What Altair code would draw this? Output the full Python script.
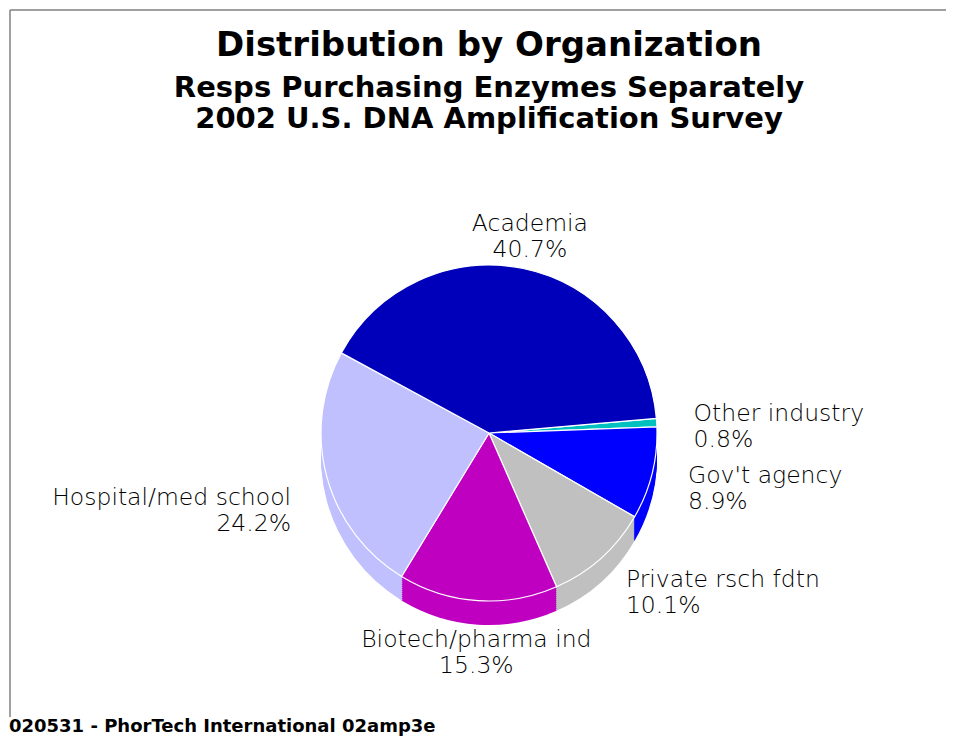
import math
import altair as alt
import pandas as pd

# ---- data ----
categories = ["Other industry", "Gov't agency", "Private rsch fdtn",
              "Biotech/pharma ind", "Hospital/med school", "Academia"]
shares = [0.8, 8.9, 10.1, 15.3, 24.2, 40.7]
colors = ["#00C0C0", "#0000FF", "#C0C0C0", "#C000C0", "#C0C0FF", "#0000BB"]

title_lines = ["Distribution by Organization",
               "Resps Purchasing Enzymes Separately",
               "2002 U.S. DNA Amplification Survey"]
footnote = "020531 - PhorTech International 02amp3e"

# ---- layout / style ----
W, H = 938, 730
CX, CY = 481, 425
R = 168
DEPTH = 24
START_DEG = 85
theta_scale = alt.Scale(domain=[0, 100],
                        range=[math.radians(START_DEG), math.radians(START_DEG) + 2 * math.pi],
                        nice=False)
color_enc = alt.Color("category:N", scale=alt.Scale(domain=categories, range=colors), legend=None)

df = pd.DataFrame({"category": categories, "share": shares, "order": list(range(len(categories)))})

base = (
    alt.Chart(df)
    .transform_window(cum="sum(share)", sort=[alt.SortField("order")], frame=[None, 0])
    .transform_calculate(
        start="datum.cum - datum.share",
        mid="datum.cum - datum.share / 2",
        deg=f"({START_DEG} + (datum.cum - datum.share / 2) * 3.6) % 360",
        label="datum.category + '\\n' + format(datum.share, '.1f') + '%'",
    )
    .transform_calculate(
        side="datum.deg > 30 && datum.deg < 150 ? 'right' : "
             "(datum.deg > 210 && datum.deg < 330 ? 'left' : "
             "(datum.deg >= 150 && datum.deg <= 210 ? 'bottom' : 'top'))"
    )
)


def pie(offset, top):
    kw = dict(radius=R)
    if top:
        kw.update(stroke="white", strokeWidth=1.2)
    return base.mark_arc(**kw).encode(
        theta=alt.Theta("start:Q", scale=theta_scale, stack=False),
        theta2="cum:Q",
        color=color_enc,
        x=alt.value(CX),
        y=alt.value(CY + offset),
    )


layers = []
# frame lines
one = pd.DataFrame({"k": [0]})
layers.append(alt.Chart(one).mark_rule(color="#808080", strokeWidth=1.5).encode(
    x=alt.value(2), x2=alt.value(W), y=alt.value(2)))
layers.append(alt.Chart(one).mark_rule(color="#808080", strokeWidth=1.5).encode(
    x=alt.value(2), y=alt.value(2), y2=alt.value(709)))

# pie side (depth) then top face
for k in range(DEPTH, 0, -2):
    layers.append(pie(k, False))
layers.append(pie(0, True))

# slice labels
label_font = dict(font="DejaVu Sans", fontSize=23.5, fontWeight=200, color="black",
                  lineBreak="\n", lineHeight=26)
side_cfg = {
    "right": dict(align="left", baseline="middle", radius=205, dy=-6),
    "left": dict(align="right", baseline="middle", radius=205, dy=12),
    "top": dict(align="center", baseline="bottom", radius=201, dy=0),
    "bottom": dict(align="center", baseline="top", radius=190, dy=5),
}
for side, cfg in side_cfg.items():
    layers.append(
        base.transform_filter(f"datum.side == '{side}'")
        .mark_text(align=cfg["align"], baseline=cfg["baseline"], radius=cfg["radius"], **label_font)
        .encode(
            theta=alt.Theta("mid:Q", scale=theta_scale, stack=False),
            text="label:N",
            x=alt.value(CX),
            y=alt.value(CY + cfg["dy"]),
        )
    )

# titles
title_sizes = [34, 29, 29]
title_y = [48, 89, 120]
for line, size, yy in zip(title_lines, title_sizes, title_y):
    layers.append(
        alt.Chart(pd.DataFrame({"t": [line]}))
        .mark_text(font="DejaVu Sans", fontSize=size, fontWeight="bold", color="black",
                   align="center", baseline="alphabetic")
        .encode(text="t:N", x=alt.value(CX), y=alt.value(yy))
    )

layers.append(
    alt.Chart(pd.DataFrame({"t": [footnote]}))
    .mark_text(font="DejaVu Sans", fontSize=18, fontWeight="bold", color="black",
               align="left", baseline="alphabetic")
    .encode(text="t:N", x=alt.value(1), y=alt.value(724))
)

chart = (
    alt.layer(*layers)
    .properties(width=W, height=H, autosize=alt.AutoSizeParams(type="none"), padding=0)
    .configure_view(stroke=None)
)

chart.save("out.html", embed_options={"renderer": "svg", "actions": False})
